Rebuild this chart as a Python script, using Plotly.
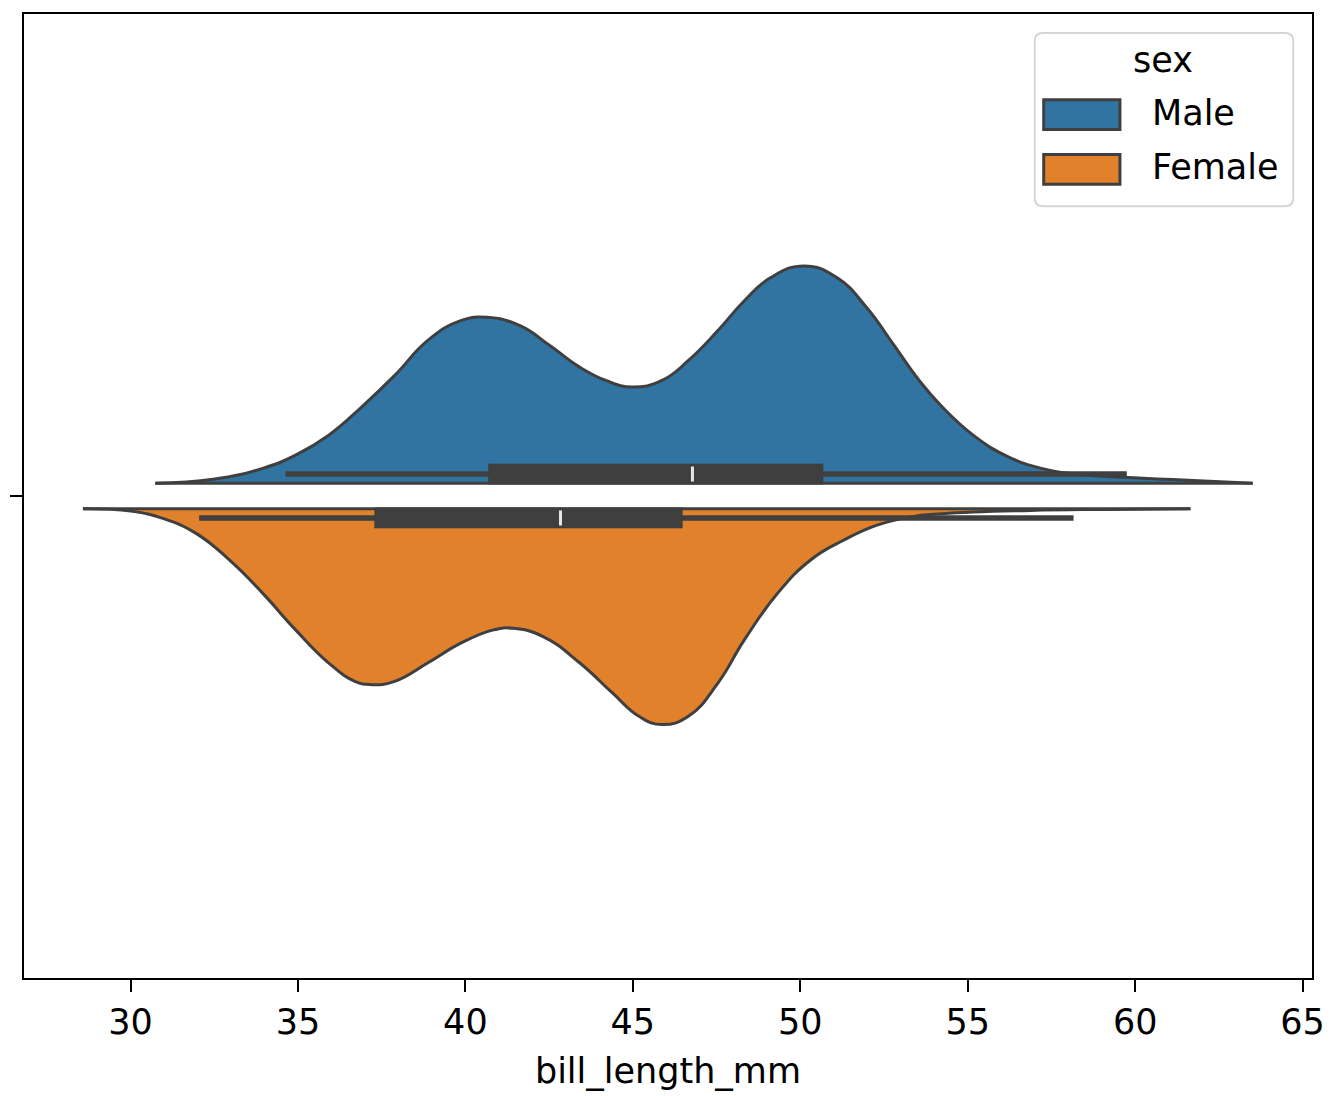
import plotly.graph_objects as go

# ---------------- data ----------------
sex_levels = ["Male", "Female"]

male_x = [30.74, 32.47, 33.95, 34.93, 35.92, 36.90, 37.89, 38.87, 39.86, 40.65,
          41.63, 42.52, 43.41, 44.19, 44.98, 45.87, 46.66, 47.54, 48.33, 49.12,
          50.11, 51.09, 51.98, 52.77, 53.55, 54.24, 55.23, 56.21, 57.20, 58.18,
          60.23, 61.73, 63.51]
male_density = [0.0, 0.0041, 0.0155, 0.0292, 0.0499, 0.0791, 0.1119, 0.1480, 0.1687, 0.1721,
                0.1635, 0.1429, 0.1205, 0.1067, 0.0998, 0.1067, 0.1274, 0.1584, 0.1894, 0.2134,
                0.2255, 0.2134, 0.1824, 0.1446, 0.1067, 0.0791, 0.0481, 0.0275, 0.0155, 0.0096,
                0.0052, 0.0029, 0.0]

female_x = [28.58, 30.01, 30.99, 31.97, 32.96, 33.95, 34.93, 35.92, 36.70, 37.20,
            37.89, 38.87, 39.86, 40.84, 41.43, 42.32, 43.41, 44.39, 45.18, 45.87,
            46.66, 47.54, 48.33, 49.32, 50.30, 51.29, 52.27, 53.26, 54.24, 56.86,
            59.19, 61.65]
female_density = [0.0, 0.0025, 0.0103, 0.0258, 0.0534, 0.0878, 0.1257, 0.1601, 0.1791, 0.1825,
                  0.1791, 0.1601, 0.1395, 0.1257, 0.1240, 0.1326, 0.1598, 0.1911, 0.2153, 0.2239,
                  0.2153, 0.1808, 0.1361, 0.0878, 0.0534, 0.0327, 0.0173, 0.0087, 0.0052, 0.0018,
                  0.0007, 0.0]

male_box = [34.63, 40.69, 46.78, 50.68, 59.75]      # whisker low, q1, median, q3, whisker high
female_box = [32.05, 37.29, 42.84, 46.48, 58.16]

x_ticks = [30, 35, 40, 45, 50, 55, 60, 65]
x_title = "bill_length_mm"
legend_title = "sex"

# ---------------- style ----------------
W, H = 1337, 1096
ML, MR, MT, MB = 19, 17, 12, 116
FONT = "DejaVu Sans"
FS = 35
DARK = "#3f3f3f"
COLORS = {"Male": "#3274a1", "Female": "#e1812c"}
GAP = 0.0132        # half gap between the split halves
BOX_OFF = 0.0228    # box centre offset
BOX_HALF = 0.0105   # box half height
MED_HALF = 0.0078

fig = go.Figure()


def add_half(xs, dens, sign, color):
    base = sign * GAP
    ys = [base + sign * d for d in dens]
    fig.add_trace(go.Scatter(x=[xs[0], xs[-1]], y=[base, base], mode="lines",
                             line=dict(width=0, color=color), showlegend=False,
                             hoverinfo="skip"))
    fig.add_trace(go.Scatter(x=xs, y=ys, mode="lines", fill="tonexty",
                             fillcolor=color,
                             line=dict(color=DARK, width=3, shape="spline", smoothing=1.3),
                             showlegend=False, hoverinfo="skip"))
    fig.add_trace(go.Scatter(x=[xs[0], xs[-1]], y=[base, base], mode="lines",
                             line=dict(width=3, color=DARK), showlegend=False,
                             hoverinfo="skip"))


def add_box(stats, sign):
    lo, q1, med, q3, hi = stats
    c = sign * BOX_OFF
    fig.add_trace(go.Scatter(x=[lo, hi], y=[c, c], mode="lines",
                             line=dict(color=DARK, width=5.5), showlegend=False,
                             hoverinfo="skip"))
    fig.add_trace(go.Scatter(x=[q1, q3, q3, q1, q1],
                             y=[c - BOX_HALF, c - BOX_HALF, c + BOX_HALF, c + BOX_HALF, c - BOX_HALF],
                             mode="lines", fill="toself", fillcolor=DARK,
                             line=dict(color=DARK, width=0.5), showlegend=False,
                             hoverinfo="skip"))
    fig.add_trace(go.Scatter(x=[med, med], y=[c - MED_HALF, c + MED_HALF], mode="lines",
                             line=dict(color="#e6e6e6", width=3), showlegend=False,
                             hoverinfo="skip"))


add_half(male_x, male_density, 1, COLORS["Male"])
add_box(male_box, 1)
add_half(female_x, female_density, -1, COLORS["Female"])
add_box(female_box, -1)

# ---------------- manual legend (matplotlib style) ----------------
pw, ph = W - ML - MR, H - MT - MB


def px_x(p):
    return (p - ML) / pw


def px_y(p):
    return (H - MB - p) / ph


def rounded_rect(x0, y0, x1, y1, r):
    rx, ry = r / pw, r / ph
    X0, X1, Y0, Y1 = px_x(x0), px_x(x1), px_y(y1), px_y(y0)
    return (f"M {X0 + rx},{Y0} L {X1 - rx},{Y0} Q {X1},{Y0} {X1},{Y0 + ry} "
            f"L {X1},{Y1 - ry} Q {X1},{Y1} {X1 - rx},{Y1} L {X0 + rx},{Y1} "
            f"Q {X0},{Y1} {X0},{Y1 - ry} L {X0},{Y0 + ry} Q {X0},{Y0} {X0 + rx},{Y0} Z")


shapes = [dict(type="path", xref="paper", yref="paper",
               path=rounded_rect(1040, 31, 1301, 205, 8),
               fillcolor="rgba(255,255,255,0.8)", line=dict(color="#d5d5d5", width=2))]
annotations = [dict(text=legend_title, x=px_x(1169), y=px_y(58), xref="paper", yref="paper",
                    xanchor="center", yanchor="middle", showarrow=False,
                    font=dict(family=FONT, size=FS, color="black"))]
for i, s in enumerate(sex_levels):
    top = 98 + i * 55
    shapes.append(dict(type="rect", xref="paper", yref="paper",
                       x0=px_x(1049), x1=px_x(1126), y0=px_y(top + 30), y1=px_y(top),
                       fillcolor=COLORS[s], line=dict(color=DARK, width=3)))
    annotations.append(dict(text=s, x=px_x(1156), y=px_y(top + 13), xref="paper", yref="paper",
                            xanchor="left", yanchor="middle", showarrow=False,
                            font=dict(family=FONT, size=FS, color="black")))

fig.update_layout(
    width=W, height=H,
    margin=dict(l=ML, r=MR, t=MT, b=MB, pad=0),
    paper_bgcolor="white", plot_bgcolor="white",
    font=dict(family=FONT, size=FS, color="black"),
    shapes=shapes, annotations=annotations,
    showlegend=False,
)
fig.update_xaxes(range=[26.82, 65.28], tickvals=x_ticks, ticktext=[str(t) for t in x_ticks],
                 ticks="outside", ticklen=12, tickwidth=2, tickcolor="black",
                 showline=True, linecolor="black", linewidth=2, mirror=True,
                 showgrid=False, zeroline=False,
                 title=dict(text=x_title, font=dict(family=FONT, size=FS), standoff=17),
                 tickfont=dict(family=FONT, size=FS))
fig.update_yaxes(range=[-0.5, 0.5], tickvals=[0], ticktext=[""],
                 ticks="outside", ticklen=12, tickwidth=2, tickcolor="black",
                 showline=True, linecolor="black", linewidth=2, mirror=True,
                 showgrid=False, zeroline=False)

fig.write_html("out.html")
